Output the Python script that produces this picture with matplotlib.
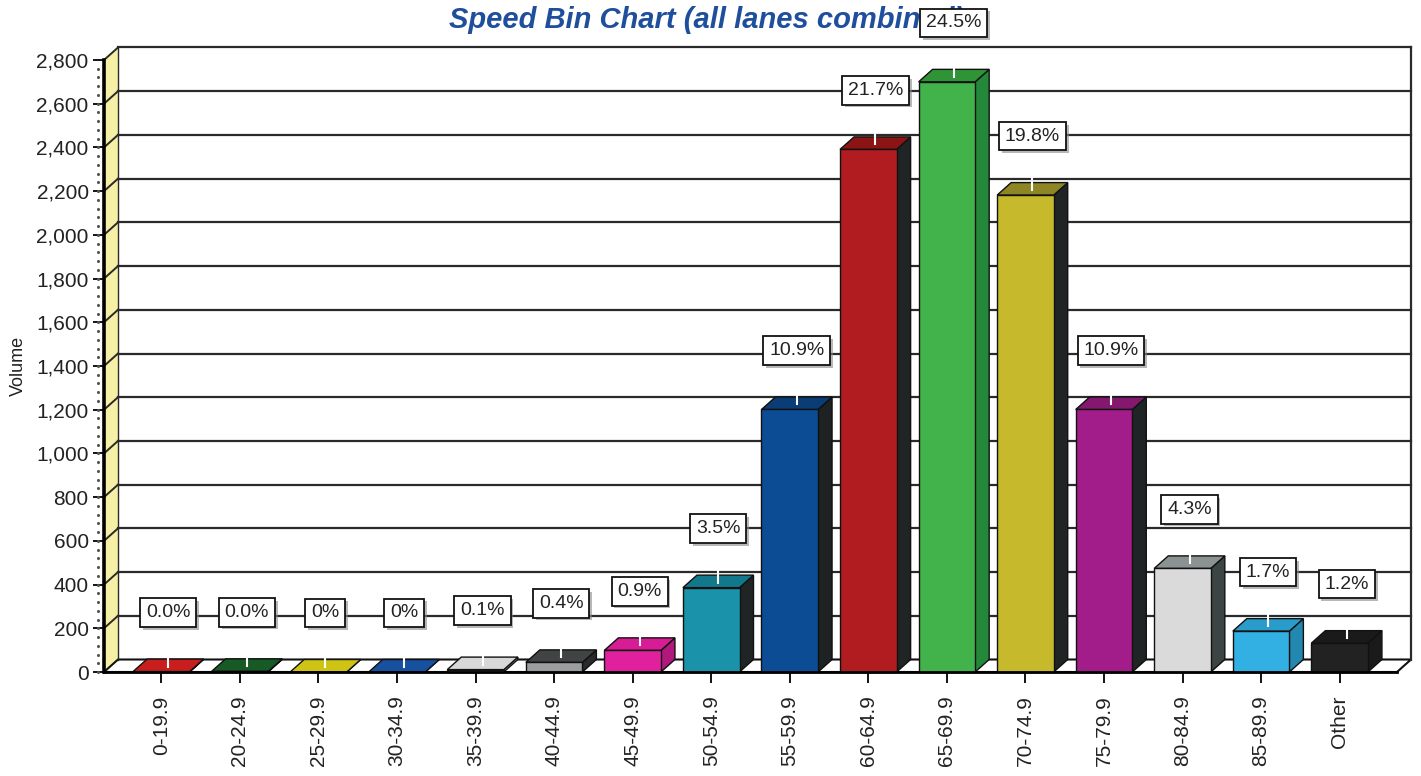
import numpy as np
import matplotlib.pyplot as plt
from matplotlib.patches import Polygon
import matplotlib.patheffects as pe

plt.rcParams['font.family'] = ['Liberation Sans', 'DejaVu Sans']

# speed bins and counted volume per bin
bins = ['0-19.9', '20-24.9', '25-29.9', '30-34.9', '35-39.9', '40-44.9', '45-49.9',
        '50-54.9', '55-59.9', '60-64.9', '65-69.9', '70-74.9', '75-79.9', '80-84.9',
        '85-89.9', 'Other']
volume = [2, 3, 0, 0, 11, 44, 99, 386, 1201, 2391, 2700, 2182, 1201, 474, 187, 132]
pct_labels = ['0.0%', '0.0%', '0%', '0%', '0.1%', '0.4%', '0.9%', '3.5%', '10.9%',
              '21.7%', '24.5%', '19.8%', '10.9%', '4.3%', '1.7%', '1.2%']
yticks = list(range(0, 2801, 200))

front_col = ['#e02828', '#1e6a2e', '#e6dc1c', '#1c5cb8', '#e6e6e6', '#9a9e9e',
             '#e0209c', '#1a92aa', '#0c4c94', '#b01c20', '#42b24a', '#c6ba2c',
             '#a21c8a', '#dadada', '#32b0e4', '#222222']
top_col = ['#c81e1e', '#175a26', '#cfc414', '#17509e', '#d8d8d8', '#404444',
           '#d81c96', '#12788c', '#0a3c76', '#8c1414', '#2e9436', '#8e8624',
           '#84186e', '#8c9292', '#2a9ccc', '#1a1a1a']
side_col = ['#b01818', '#124a1e', '#b0a810', '#144690', '#c0c0c0', '#2a2a2a',
            '#b0187c', '#202424', '#1e2222', '#202424', '#24883a', '#202424',
            '#202424', '#3c4444', '#2288b0', '#1a1a1a']

fig = plt.figure(figsize=(14.21, 7.76), dpi=100)
ax = fig.add_axes([104 / 1421, 104 / 776, 1293 / 1421, 612 / 776])
x0, x1 = -0.73, 15.73
ax.set_xlim(x0, x1)
ax.set_ylim(0, 2800)

# depth offset of the fake 3d walls, in data units
DX = 14 / (1293 / (x1 - x0))
DY = 12.5 / (612 / 2800)

# left wall
ax.add_patch(Polygon([(x0, 0), (x0, 2800), (x0 + DX, 2800 + DY), (x0 + DX, DY)],
                     closed=True, fc='#f6f0a6', ec='none', zorder=1, clip_on=False))
# floor
ax.add_patch(Polygon([(x0, 0), (x1, 0), (x1 + DX, DY), (x0 + DX, DY)],
                     closed=True, fc='white', ec='#111111', lw=1.5, zorder=1, clip_on=False))

# gridlines on the back wall + left wall diagonals
for t in yticks[1:]:
    ax.plot([x0 + DX, x1 + DX], [t + DY, t + DY], color='#2a2a2a', lw=1.6, zorder=1.5, clip_on=False)
    ax.plot([x0, x0 + DX], [t, t + DY], color='#2a2a2a', lw=1.4, zorder=1.5, clip_on=False)
ax.plot([x1 + DX, x1 + DX], [DY, 2800 + DY], color='#2a2a2a', lw=1.6, zorder=1.5, clip_on=False)
ax.plot([x0 + DX, x0 + DX], [DY, 2800 + DY], color='#2a2a2a', lw=1.0, zorder=1.5, clip_on=False)

# dotted minor marks beside the value axis
ax.scatter(np.full(70, x0 - 6 / (1293 / (x1 - x0))), np.arange(0, 2800, 40),
           s=1.5, color='#555555', zorder=3, clip_on=False)

w = 0.72
for i, v in enumerate(volume):
    l, r = i - w / 2, i + w / 2
    ax.add_patch(Polygon([(r, 0), (r + DX, DY), (r + DX, v + DY), (r, v)], closed=True,
                         fc=side_col[i], ec='#111111', lw=1.0, zorder=4, clip_on=False))
    ax.add_patch(Polygon([(l, v), (l + DX, v + DY), (r + DX, v + DY), (r, v)], closed=True,
                         fc=top_col[i], ec='#111111', lw=1.0, zorder=4, clip_on=False))
    if v > 0:
        ax.add_patch(Polygon([(l, 0), (r, 0), (r, v), (l, v)], closed=True,
                             fc=front_col[i], ec='#111111', lw=1.0, zorder=4, clip_on=False))
    # short white leader
    ax.plot([i + DX / 2, i + DX / 2], [v + DY * 0.4, v + DY + 40], color='white',
            lw=1.5, zorder=5, clip_on=False)
    t = ax.text(i + DX / 2, v + 270, pct_labels[i], ha='center', va='center',
                fontsize=14, color='#222222', zorder=7,
                bbox=dict(boxstyle='square,pad=0.3', fc='white', ec='#111111', lw=1.3))
    t.get_bbox_patch().set_path_effects([pe.withSimplePatchShadow(offset=(2, -2), shadow_rgbFace='#888888', alpha=0.6)])

ax.set_yticks(yticks)
ax.set_yticklabels([f'{t:,}' for t in yticks], fontsize=15, color='#222222')
ax.set_xticks(range(len(bins)))
ax.set_xticklabels(bins, rotation=90, fontsize=15, color='#222222')
ax.tick_params(axis='y', length=8, width=1.3, pad=3)
ax.tick_params(axis='x', length=8, width=1.3, pad=9)
for s in ['top', 'right']:
    ax.spines[s].set_visible(False)
ax.spines['left'].set_linewidth(2.6)
ax.spines['bottom'].set_linewidth(2.0)
ax.spines['left'].set_zorder(6)
ax.spines['bottom'].set_zorder(6)
ax.set_facecolor('none')

# title sits behind the axes so the top label box covers its tail
fig.text(449 / 1421, 1 - 20 / 776, 'Speed Bin Chart (all lanes combined)', ha='left', va='center',
         fontsize=21, fontweight='bold', style='italic', color='#1f4e9c', zorder=-1)
fig.text(18 / 1421, 1 - 366 / 776, 'Volume', rotation=90, ha='center', va='center',
         fontsize=13, color='#222222')

fig.savefig('out.png', dpi=100)
